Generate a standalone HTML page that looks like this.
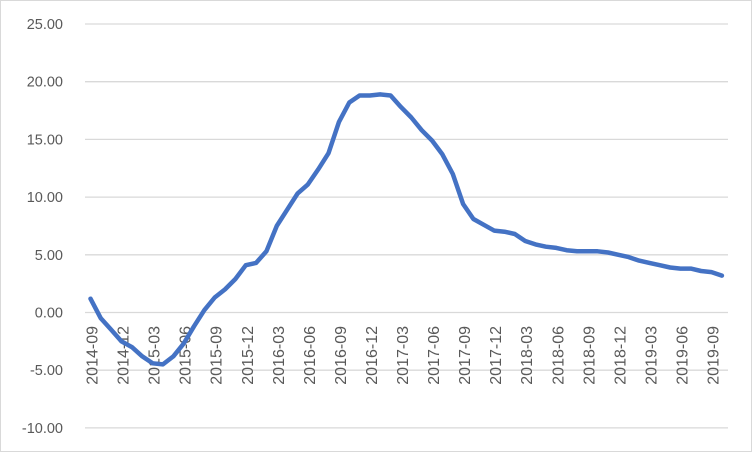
<!DOCTYPE html><html><head><style>body{margin:0;background:#fff}svg{display:block}</style></head><body>
<svg id="s" width="752" height="452" xmlns="http://www.w3.org/2000/svg" font-family="Liberation Sans, sans-serif">
<rect x="0.5" y="0.5" width="751" height="451" fill="#fff" stroke="#d9d9d9"/>
</svg>
<script>
var s=document.getElementById('s'),h='';
function Y(v){return 312.5-v*11.54;}
for(var v=25;v>=-10;v-=5){var y=Y(v);h+='<line x1="85" x2="728" y1="'+y+'" y2="'+y+'" stroke="#d9d9d9" stroke-width="1.3"/>';
h+='<text x="63" y="'+(y+5)+'" text-anchor="end" font-size="14.5" fill="#595959">'+v.toFixed(2)+'</text>';}
var d=[1.2,-0.5,-1.5,-2.5,-3.0,-3.8,-4.4,-4.5,-3.8,-2.7,-1.2,0.2,1.3,2.0,2.9,4.1,4.3,5.3,7.5,8.9,10.3,11.1,12.4,13.8,16.5,18.2,18.8,18.8,18.9,18.8,17.8,16.9,15.8,14.9,13.7,12.0,9.4,8.1,7.6,7.1,7.0,6.8,6.2,5.9,5.7,5.6,5.4,5.3,5.3,5.3,5.2,5.0,4.8,4.5,4.3,4.1,3.9,3.8,3.8,3.6,3.5,3.2];
var p='';for(var i=0;i<d.length;i++){p+=(i?'L':'M')+(90.5+i*10.35).toFixed(1)+','+Y(d[i]).toFixed(1);}
for(var q=0;q<21;q++){var m=9+q*3,yr=2014+Math.floor((m-1)/12),mo=(m-1)%12+1;var x=92+q*31.05;
h+='<text transform="translate('+(x+5.5)+',326) rotate(-90)" text-anchor="end" font-size="16" fill="#595959">'+yr+'-'+(mo<10?'0':'')+mo+'</text>';}
h+='<path d="'+p+'" fill="none" stroke="#4472c4" stroke-width="4.5" stroke-linejoin="round" stroke-linecap="round"/>';
s.insertAdjacentHTML('beforeend',h);
</script>
</body></html>
